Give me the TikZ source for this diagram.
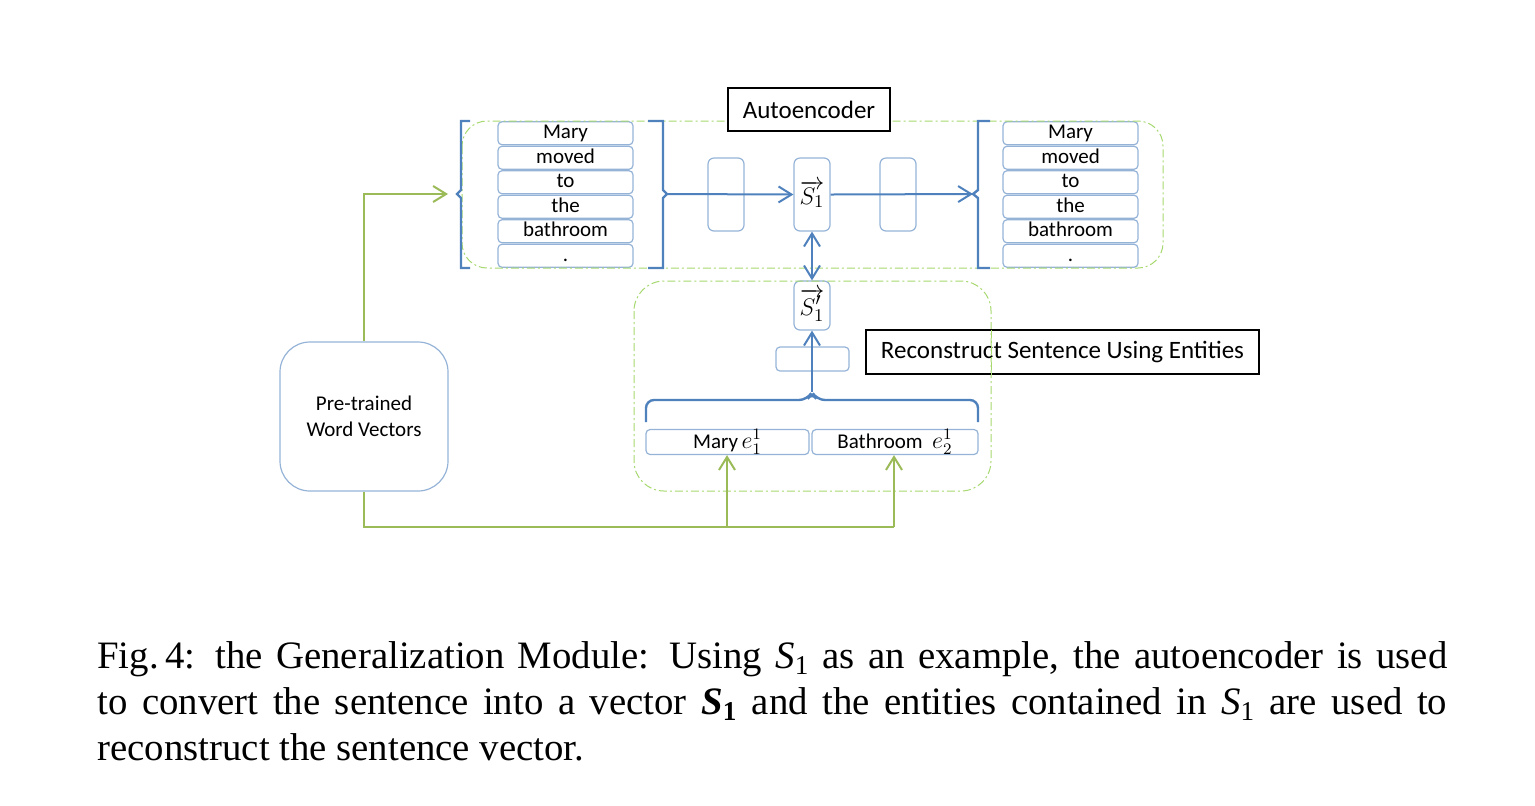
\documentclass[tikz,border=0pt]{standalone}
\usepackage{fontspec}
\setmainfont{Liberation Serif}
\newfontfamily\carl{Carlito}
\usetikzlibrary{arrows.meta}
\definecolor{boxblue}{HTML}{95B3D7}
\definecolor{lineblue}{HTML}{4F81BD}
\definecolor{grn}{HTML}{9BBB59}
\definecolor{dgrn}{HTML}{A6D86E}
\newcommand{\Sit}{\textit{S}\textsubscript{1}}
\newcommand{\Sbf}{\textbf{\textit{S}\textsubscript{1}}}
\newcommand{\entmath}[1]{{\fontsize{12}{14}\selectfont$#1$}}
\begin{document}
\begin{tikzpicture}[x=0.5pt,y=-0.5pt,
  word/.style={draw=boxblue,line width=0.6pt,rounded corners=2pt,minimum width=67.5pt,minimum height=11.5pt,inner sep=0pt,text height=7.3pt,text depth=1.8pt,font=\carl\fontsize{10.5}{12}\selectfont},
  hid/.style={draw=boxblue,line width=0.6pt,rounded corners=3pt,minimum width=18pt,minimum height=36.5pt,inner sep=0pt,font=\fontsize{12.5}{14}\selectfont},
  ent/.style={draw=boxblue,line width=0.6pt,rounded corners=2pt,minimum height=12pt,inner sep=0pt,font=\carl\fontsize{10.5}{12}\selectfont},
  lab/.style={draw=black,line width=0.7pt,inner sep=0pt,font=\carl\fontsize{12.5}{14}\selectfont},
  bl/.style={draw=lineblue,line width=1pt},
  gr/.style={draw=grn,line width=1pt},
  grp/.style={draw=dgrn,line width=0.5pt,dash pattern=on 4pt off 1.5pt on 1pt off 1.5pt},
  >={Straight Barb[length=6.5pt,width=8pt]}]
\useasboundingbox (0,0) rectangle (1535,805);

% word columns
\foreach \w [count=\i] in {Mary,moved,to,the,bathroom,.}{
  \node[word] (L\i) at (565.5,{108.75+24.5*\i}) {\w};
  \node[word] (R\i) at (1070.5,{108.75+24.5*\i}) {\w};
}

% hidden layers
\node[hid] (h1) at (726,194.5) {};
\node[hid] (S1) at (812,194.5) {$\overrightarrow{S_1}$};
\node[hid] (h2) at (898,194.5) {};
\node[hid,minimum height=24.5pt] (S2) at (812,305.5) {$\overrightarrow{S'_1}$};
\node[hid,minimum width=36.5pt,minimum height=12pt,rounded corners=2pt] (h3) at (812.5,359) {};

% entities
\node[ent,minimum width=81.5pt] (E1) at (727.5,442) {Mary\,\entmath{e_1^1}};
\node[ent,minimum width=83pt] (E2) at (895,442) {Bathroom~ \entmath{e_2^1}};

% pre-trained
\node[draw=boxblue,line width=0.6pt,rounded corners=15pt,minimum width=84pt,minimum height=74.5pt,align=center,font=\carl\fontsize{10.5}{13}\selectfont] (pre) at (364,416.5) {Pre-trained\\Word Vectors};

% dash-dot groups
\draw[grp,rounded corners=12.5pt] (462,121) rectangle (1163,268);
\draw[grp,rounded corners=15pt] (634,281) rectangle (991,491);

% labels
\node[lab,fill=white,minimum width=81pt,minimum height=21.5pt] (ae) at (809,109.5) {Autoencoder};
\node[lab,minimum width=196.5pt,minimum height=22pt] (rc) at (1062.5,352) {Reconstruct Sentence Using Entities};
\draw[grp] (991,330) -- (991,375);

% braces
\coordinate (lbt) at (457,194);
\coordinate (lbr) at (667,194);
\coordinate (rbl) at (973,194);
\coordinate (lbtop) at (812,392);
\draw[bl,line width=1.2pt] (470,121) -- (461,121) -- (461,190) -- (lbt) -- (461,198) -- (461,268) -- (470,268);
\draw[bl,line width=1.2pt] (648,121) -- (663,121) -- (663,190) -- (lbr) -- (663,198) -- (663,268) -- (648,268);
\draw[bl,line width=1.2pt] (990,121) -- (978,121) -- (978,190) -- (rbl) -- (978,198) -- (978,268) -- (990,268);
\draw[bl,line width=1.2pt,rounded corners=4pt] (646,422) -- (646,400) -- (807,400) -- (lbtop) -- (817,400) -- (978,400) -- (978,422);

% blue connectors
\draw[bl,->] (lbr) -- (S1.west);
\draw[bl,->] (S1.east) -- (rbl);
\draw[bl,<->] (S1.south) -- (S2.north);
\draw[bl,->] (lbtop) -- (S2.south);

% green connectors
\coordinate (j1) at (727,527);
\coordinate (j2) at (894,527);
\draw[gr,->,shorten >=4.5pt] (pre.north) |- (lbt);
\draw[gr] (pre.south) |- (j2);
\draw[gr,->] (j1) -- (j1 |- E1.south);
\draw[gr,->] (j2) -- (j2 |- E2.south);

% caption
\node[anchor=north west,inner sep=0pt,text width=675pt,align=justify,font=\fontsize{19.4}{23}\selectfont] (cap) at (97,641)
{Fig.\,4: the Generalization Module: Using \Sit{} as an example, the autoencoder is used\linebreak to convert the sentence into a vector \Sbf{} and the entities contained in \Sit{} are used to\linebreak reconstruct the sentence vector.};
\end{tikzpicture}
\end{document}
